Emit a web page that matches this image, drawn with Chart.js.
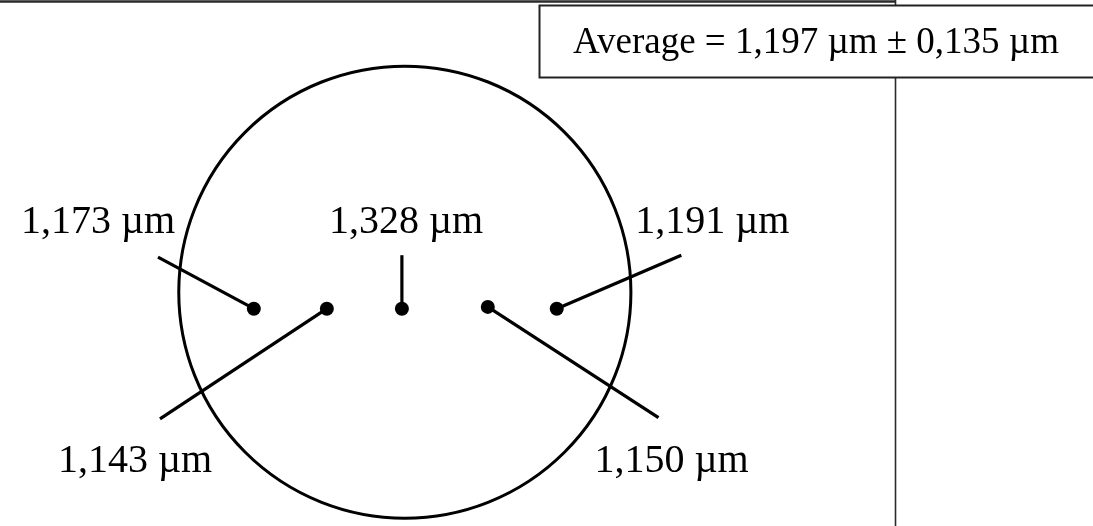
<!DOCTYPE html>
<html>
<head>
<meta charset="utf-8">
<script src="https://cdn.jsdelivr.net/npm/chart.js@4.4.1/dist/chart.umd.min.js"></script>
<style>
  html, body { margin: 0; padding: 0; background: #fff; }
  #wrap { position: relative; width: 1093px; height: 526px; }
</style>
</head>
<body>
<div id="wrap"><canvas id="thicknessChart" width="1093" height="526"></canvas></div>
<script>
// thickness readings (µm) at the five measurement spots
const spotLabels = ['1,173 µm', '1,143 µm', '1,328 µm', '1,150 µm', '1,191 µm'];
const thickness = [1.173, 1.143, 1.328, 1.150, 1.191];
// spot positions on the sample, in sample radii from its centre
const spotX = [-0.668, -0.345, -0.013, 0.367, 0.672];
const spotY = [-0.074, -0.074, -0.074, -0.066, -0.074];
// where each leader line ends (same units)
const leaderX = [-1.092, -1.083, -0.013, 1.122, 1.223];
const leaderY = [0.157, -0.568, 0.166, -0.563, 0.166];
const spread = 0.135;

// label placement, px offset from the leader end
const labelOffset = [[-137, -24], [-102, 53], [-73, -22], [-64, 54], [-46, -22]];

const fmt = v => v.toFixed(3).replace('.', ',');
const mean = thickness.reduce((a, b) => a + b, 0) / thickness.length;

const datasets = spotLabels.map((name, i) => ({
    label: name,
    data: [{ x: spotX[i], y: spotY[i] }, { x: leaderX[i], y: leaderY[i] }],
    showLine: true,
    borderColor: '#000',
    borderWidth: 3.2,
    pointRadius: [7, 0],
    pointBackgroundColor: '#000',
    pointBorderWidth: 0
}));

const sampleDrawing = {
    id: 'sampleDrawing',
    beforeDatasetsDraw(chart) {
        const { ctx, scales: { x, y } } = chart;
        ctx.save();
        // table rules
        ctx.strokeStyle = '#2a2a2a';
        ctx.lineWidth = 2.5;
        ctx.beginPath();
        ctx.moveTo(0, 1.5);
        ctx.lineTo(895, 1.5);
        ctx.stroke();
        ctx.lineWidth = 1.6;
        ctx.beginPath();
        ctx.moveTo(895.5, 0);
        ctx.lineTo(895.5, 526);
        ctx.stroke();

        // sample outline
        const cx = x.getPixelForValue(0);
        const cy = y.getPixelForValue(0);
        const r = x.getPixelForValue(1) - cx;
        ctx.strokeStyle = '#000';
        ctx.lineWidth = 3;
        ctx.beginPath();
        ctx.arc(cx, cy, r, 0, Math.PI * 2);
        ctx.stroke();
        ctx.restore();
    },
    afterDatasetsDraw(chart) {
        const { ctx, scales: { x, y } } = chart;
        ctx.save();
        ctx.fillStyle = '#000';
        ctx.textBaseline = 'alphabetic';
        ctx.textAlign = 'left';
        ctx.font = '40px "Liberation Serif", "Times New Roman", serif';
        spotLabels.forEach((name, i) => {
            const px = x.getPixelForValue(leaderX[i]) + labelOffset[i][0];
            const py = y.getPixelForValue(leaderY[i]) + labelOffset[i][1];
            ctx.fillText(name, px, py);
        });

        // average box
        ctx.fillStyle = '#fff';
        ctx.fillRect(539, 5, 560, 73);
        ctx.strokeStyle = '#222';
        ctx.lineWidth = 2;
        ctx.strokeRect(539.5, 5.5, 560, 72);
        ctx.fillStyle = '#000';
        ctx.font = '37px "Liberation Serif", "Times New Roman", serif';
        ctx.fillText('Average = ' + fmt(mean) + ' µm ± ' + fmt(spread) + ' µm', 573, 53);
        ctx.restore();
    }
};

new Chart(document.getElementById('thicknessChart'), {
    type: 'scatter',
    data: { datasets },
    options: {
        responsive: false,
        devicePixelRatio: 1,
        animation: false,
        layout: { padding: 0 },
        plugins: {
            legend: { display: false },
            tooltip: { enabled: false }
        },
        scales: {
            x: { type: 'linear', display: false, min: -403 / 229, max: 690 / 229 },
            y: { type: 'linear', display: false, min: -233 / 229, max: 293 / 229 }
        }
    },
    plugins: [sampleDrawing]
});
</script>
</body>
</html>
